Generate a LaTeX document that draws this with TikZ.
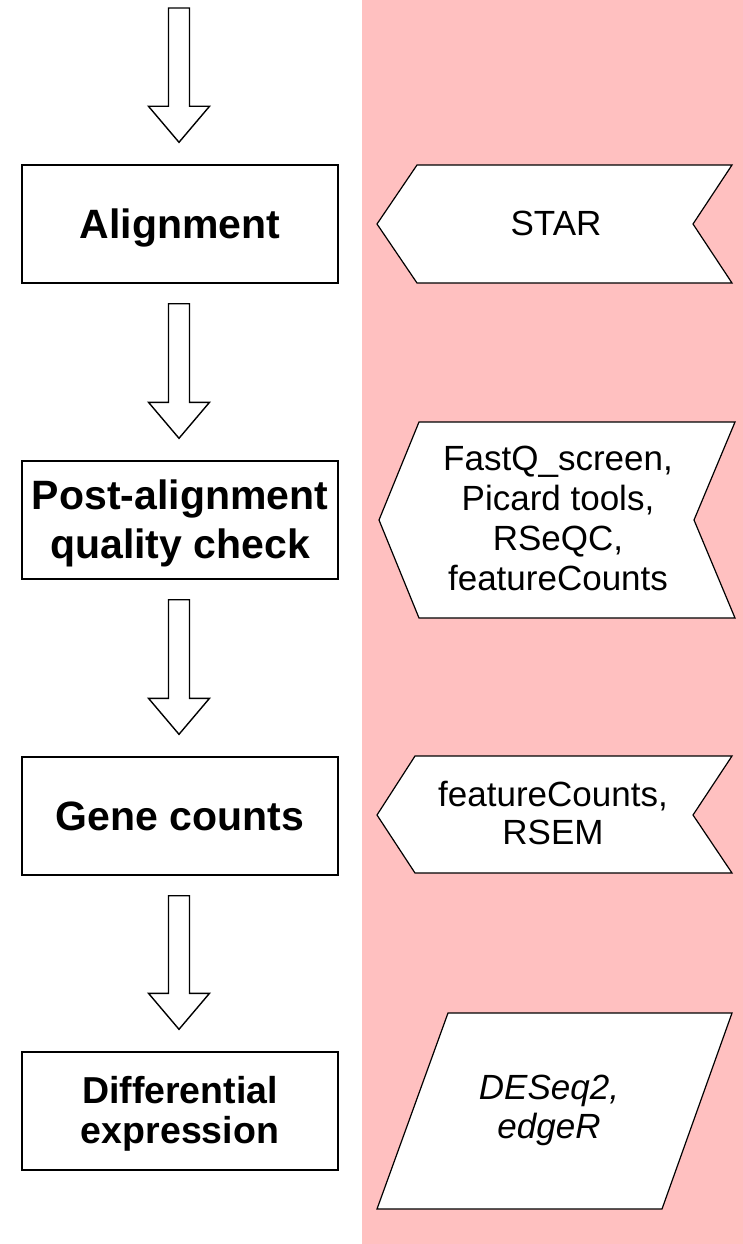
\documentclass[tikz,border=0pt]{standalone}
\usepackage{fontspec}
\setmainfont{Liberation Sans}
\usetikzlibrary{calc}
\definecolor{pinkbg}{RGB}{255,192,192}
\tikzset{
 stepbox/.style={draw=black, line width=1.4pt, fill=white, minimum width=316pt, minimum height=118pt, inner sep=0pt, align=center, text depth=0pt, font=\fontsize{41}{49}\selectfont\bfseries},
 tooltext/.style={align=center, text depth=0pt, font=\fontsize{35}{38.7}\selectfont, inner sep=0pt},
 toolshape/.style={draw=black, line width=1.2pt, fill=white, line join=miter},
 barrow/.style={draw=black, line width=1.4pt, fill=white, line join=miter},
}
\newcommand\blockarr[2]{\draw[barrow] let \p1=(#1), \p2=(#2) in (\x1-10.5pt,\y1) -- (\x1+10.5pt,\y1) -- (\x1+10.5pt,\y2+36pt) -- (\x1+30.5pt,\y2+36pt) -- (\x1,\y2) -- (\x1-30.5pt,\y2+36pt) -- (\x1-10.5pt,\y2+36pt) -- cycle;}
\begin{document}
\begin{tikzpicture}[x=1pt,y=-1pt]
\fill[white] (0,0) rectangle (743,1244);
\fill[pinkbg] (362,0) rectangle (743,1244);
\useasboundingbox (0,0) rectangle (743,1244);
% steps
\node[stepbox] (align) at (180,224) {Alignment};
\node[stepbox, text depth=2.4pt] (post) at (180,520) {Post-alignment\\quality check};
\node[stepbox] (gene) at (180,816) {Gene counts};
\node[stepbox, text depth=2.9pt, font=\fontsize{37.5}{40}\selectfont\bfseries] (diff) at (180,1111) {Differential\\expression};
% arrows
\coordinate (start) at (179,8);
\blockarr{start}{[xshift=-1pt,yshift=22pt]align.north}
\blockarr{[xshift=-1pt,yshift=-20pt]align.south}{[xshift=-1pt,yshift=22pt]post.north}
\blockarr{[xshift=-1pt,yshift=-20pt]post.south}{[xshift=-1pt,yshift=22pt]gene.north}
\blockarr{[xshift=-1pt,yshift=-20pt]gene.south}{[xshift=-1pt,yshift=22pt]diff.north}
% tools
\draw[toolshape] (417,165) -- (732,165) -- (693,224) -- (732,283) -- (417,283) -- (377,224) -- cycle;
\node[tooltext] (star) at (556,223.5) {STAR};
\draw[toolshape] (419,422) -- (735,422) -- (694,520) -- (735,618) -- (419,618) -- (379,520) -- cycle;
\node[tooltext, font=\fontsize{35}{40}\selectfont] (qc) at (558,518) {FastQ\_screen,\\Picard tools,\\RSeQC,\\featureCounts};
\draw[toolshape] (415,756) -- (732,756) -- (693,815) -- (732,873) -- (415,873) -- (377,815) -- cycle;
\node[tooltext, font=\fontsize{35}{38.5}\selectfont] (counts) at (553,813) {featureCounts,\\RSEM};
\draw[toolshape] (448,1013) -- (732,1013) -- (662,1209) -- (377,1209) -- cycle;
\node[tooltext, font=\fontsize{35}{39}\selectfont\itshape] (de) at (549,1107) {DESeq2,\\edgeR};
\end{tikzpicture}
\end{document}
